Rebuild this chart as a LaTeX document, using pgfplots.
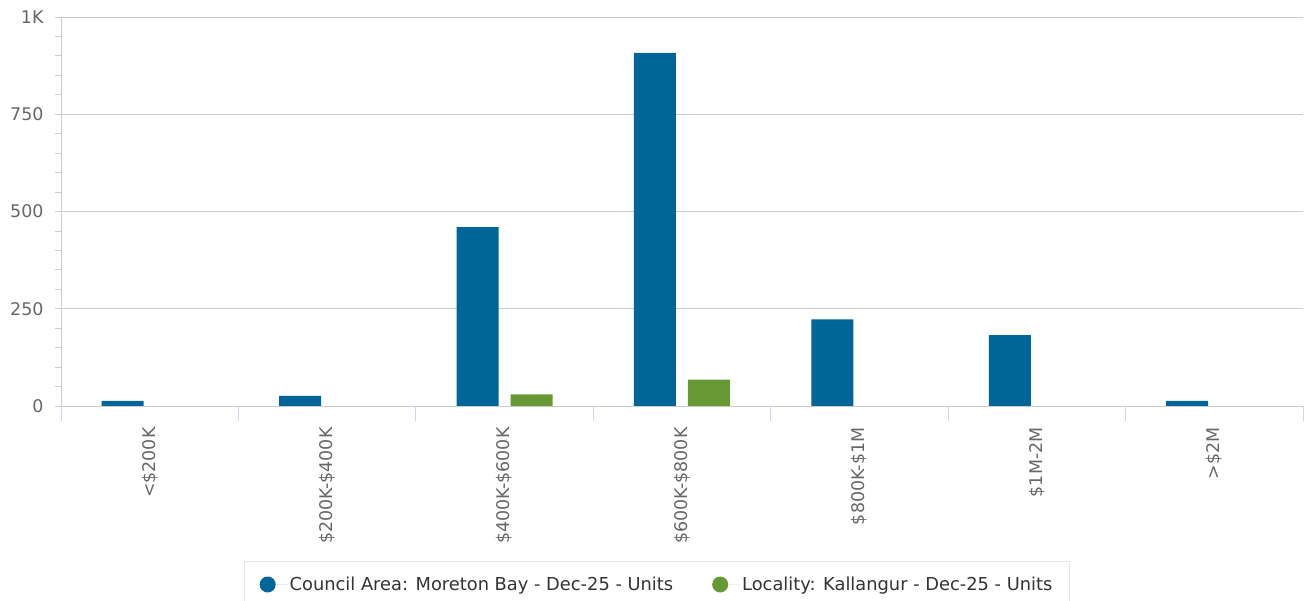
\documentclass[border=0pt]{standalone}
\usepackage{fontspec}
\setmainfont{DejaVu Sans}
\usepackage{pgfplots}
\pgfplotsset{compat=1.18}
\definecolor{cblue}{HTML}{006699}
\definecolor{cgreen}{HTML}{669933}
\definecolor{labgray}{HTML}{666666}
\definecolor{gridgray}{HTML}{CCCCCC}
\definecolor{tickblue}{HTML}{CCD6EB}
\definecolor{legtext}{HTML}{333333}

\pgfplotstableread{
x  council locality
0  13      0
1  26      0
2  460     30
3  908     68
4  223     0
5  182     0
6  13      0
}\prices

\begin{document}
\begin{tikzpicture}
\useasboundingbox (0,0) rectangle (1309bp,601bp);
\begin{axis}[
  at={(61bp,195bp)}, anchor=south west,
  scale only axis, width=1242bp, height=389bp,
  xmin=-0.5, xmax=6.5, ymin=0, ymax=1000,
  axis x line*=bottom, axis y line*=left,
  axis line style={draw=gridgray, line width=0.8bp},
  /pgf/number format/assume math mode=true,
  ymajorgrids, grid style={draw=gridgray, line width=0.8bp},
  ytick={0,250,500,750,1000}, yticklabels={0,250,500,750,1K},
  minor y tick num=4,
  tick align=outside,
  major tick length=6bp, minor tick length=6bp,
  ytick style={draw=gridgray, line width=0.8bp},
  every minor tick/.append style={draw=gridgray, line width=0.8bp},
  yticklabel style={font=\fontsize{17.5}{20}\selectfont, text=labgray, anchor=east, xshift=-8bp},
  xtick={0,...,6},
  xticklabels={<\$200K,\$200K-\$400K,\$400K-\$600K,\$600K-\$800K,\$800K-\$1M,\$1M-2M,>\$2M},
  xtick style={draw=none},
  xticklabel style={font=\fontsize{17.5}{20}\selectfont, text=labgray, yshift=-12bp, rotate=90, anchor=east},
  extra x ticks={-0.5,0.5,1.5,2.5,3.5,4.5,5.5,6.5},
  extra x tick labels={},
  extra x tick style={major tick length=15bp, xtick style={draw=tickblue, line width=0.8bp}, grid=none},
  ybar, bar width=42bp,
  legend columns=2,
  legend style={at={(0.4799,-0.4589)}, anchor=center, draw=gridgray!50,
    font=\fontsize{17.9}{20}\selectfont, text=legtext,
    inner xsep=15bp, inner ysep=14bp,
    /tikz/every even column/.append style={column sep=37bp}},
]
\addplot[fill=cblue, draw=none, bar shift=-27bp,
  legend image code/.code={\path (-8bp,0bp) -- (20bp,0bp); \fill[cblue] (0bp,0bp) circle (8bp);}]
  table[x=x, y=council] {\prices};
\addlegendentry{Council Area: Moreton Bay - Dec-25 - Units}
\addplot[fill=cgreen, draw=none, bar shift=27bp,
  legend image code/.code={\path (-8bp,0bp) -- (20bp,0bp); \fill[cgreen] (0bp,0bp) circle (8bp);}]
  table[x=x, y=locality] {\prices};
\addlegendentry{Locality: Kallangur - Dec-25 - Units}
\end{axis}
\end{tikzpicture}
\end{document}
